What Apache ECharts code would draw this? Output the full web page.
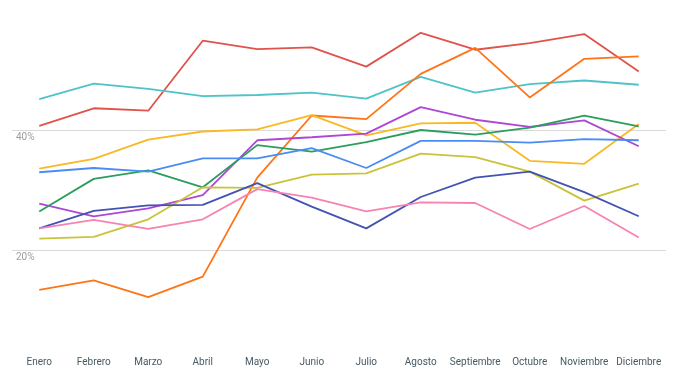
<!DOCTYPE html>
<html>
<head>
<meta charset="utf-8">
<script src="https://cdn.jsdelivr.net/npm/echarts@6/dist/echarts.min.js"></script>
<style>html,body{margin:0;padding:0;background:#fff}#c{width:681px;height:379px}</style>
</head>
<body>
<div id="c"></div>
<script>
var categories = ['Enero','Febrero','Marzo','Abril','Mayo','Junio','Julio','Agosto','Septiembre','Octubre','Noviembre','Diciembre'];
var yTicks = [0, 20, 40, 60];

var serieRojo    = [40.7, 43.6, 43.2, 54.8, 53.4, 53.7, 50.5, 56.1, 53.3, 54.4, 55.9, 49.7];
var serieCian    = [45.1, 47.7, 46.8, 45.6, 45.8, 46.2, 45.2, 48.8, 46.2, 47.6, 48.2, 47.5];
var serieNaranja = [13.5, 15.1, 12.3, 15.7, 32.1, 42.4, 41.8, 49.3, 53.6, 45.4, 51.8, 52.2];
var serieAmbar   = [33.6, 35.2, 38.4, 39.75, 40.1, 42.45, 39.1, 41.1, 41.2, 34.9, 34.4, 41.0];
var seriePurpura = [27.8, 25.7, 27.0, 29.2, 38.3, 38.8, 39.4, 43.8, 41.7, 40.5, 41.6, 37.3];
var serieVerde   = [26.5, 31.9, 33.3, 30.5, 37.5, 36.4, 38.0, 40.0, 39.25, 40.4, 42.4, 40.6];
var serieAzul    = [33.0, 33.7, 33.1, 35.3, 35.3, 37.0, 33.7, 38.2, 38.2, 37.9, 38.5, 38.3];
var serieOliva   = [22.0, 22.3, 25.2, 30.5, 30.4, 32.6, 32.8, 36.1, 35.5, 33.1, 28.3, 31.1];
var serieIndigo  = [23.7, 26.6, 27.5, 27.6, 31.2, 27.3, 23.7, 28.9, 32.1, 33.1, 29.7, 25.7];
var serieRosa    = [23.7, 25.1, 23.6, 25.2, 30.2, 28.8, 26.5, 28.0, 27.9, 23.6, 27.4, 22.2];

var seriesData = [
  {name: 'Rojo', data: serieRojo, color: '#e0534a'},
  {name: 'Cian', data: serieCian, color: '#4ec3c9'},
  {name: 'Naranja', data: serieNaranja, color: '#ff7417'},
  {name: 'Ámbar', data: serieAmbar, color: '#f9b824'},
  {name: 'Púrpura', data: seriePurpura, color: '#ad47d6'},
  {name: 'Verde', data: serieVerde, color: '#2a9e5e'},
  {name: 'Azul', data: serieAzul, color: '#4a8cf5'},
  {name: 'Oliva', data: serieOliva, color: '#c9c437'},
  {name: 'Índigo', data: serieIndigo, color: '#4352b3'},
  {name: 'Rosa', data: serieRosa, color: '#f683b2'}
];

var chart = echarts.init(document.getElementById('c'), null, {renderer: 'canvas'});
chart.setOption({
  animation: false,
  grid: {left: 12, right: 15, top: 9.3, bottom: 7.6, containLabel: false},
  xAxis: {
    type: 'category',
    data: categories,
    boundaryGap: true,
    axisLine: {show: false},
    axisTick: {show: false},
    splitLine: {show: false},
    axisLabel: {
      margin: -14,
      color: '#455a64',
      fontSize: 10,
      fontFamily: 'Roboto',
      interval: 0
    }
  },
  yAxis: {
    type: 'value',
    min: yTicks[0],
    max: yTicks[yTicks.length - 1],
    interval: 20,
    axisLine: {show: false},
    axisTick: {show: false},
    splitLine: {show: true, showMinLine: false, showMaxLine: false, lineStyle: {color: '#d9d9d9', width: 1}},
    axisLabel: {
      inside: true,
      showMinLabel: false,
      showMaxLabel: false,
      margin: 4,
      verticalAlign: 'top',
      lineHeight: 12,
      padding: [1, 0, 0, 0],
      color: '#9e9e9e',
      fontSize: 10,
      fontFamily: 'Roboto',
      formatter: '{value}%'
    }
  },
  series: seriesData.map(function (s) {
    return {
      name: s.name,
      type: 'line',
      data: s.data,
      symbol: 'none',
      smooth: false,
      lineStyle: {color: s.color, width: 1.8},
      itemStyle: {color: s.color}
    };
  })
});
</script>
</body>
</html>
